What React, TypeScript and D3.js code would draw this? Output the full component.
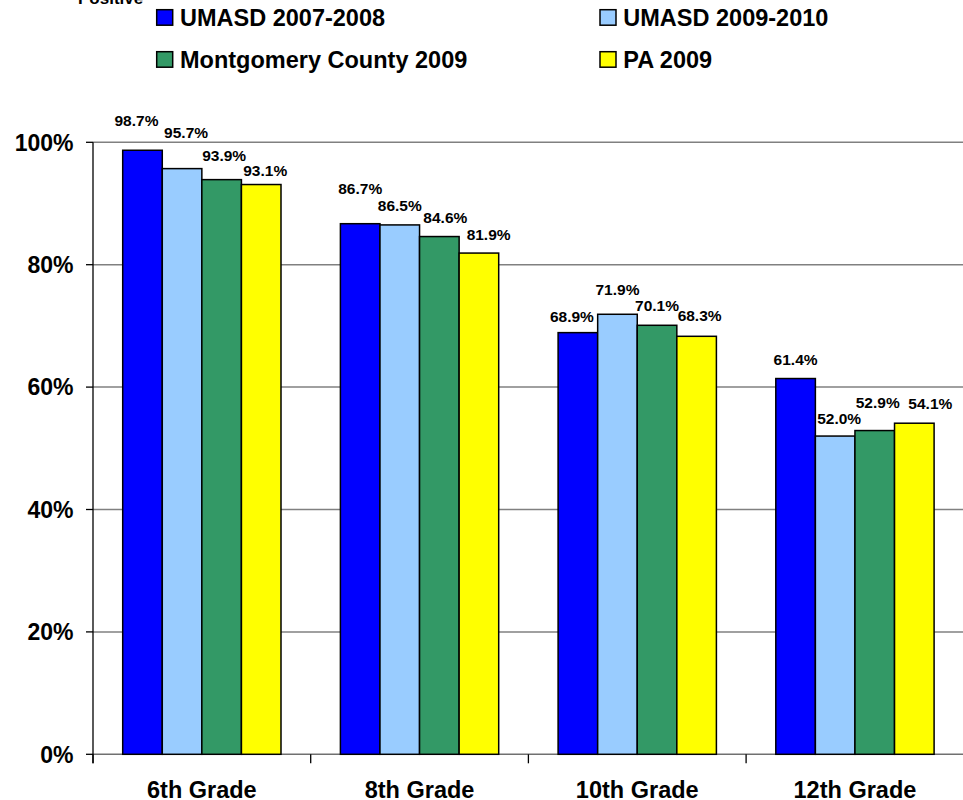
import React from "react";
import * as d3 from "d3";

const categories = ["6th Grade", "8th Grade", "10th Grade", "12th Grade"];
const seriesNames = ["UMASD 2007-2008", "UMASD 2009-2010", "Montgomery County 2009", "PA 2009"];
const umasd0708 = [98.7, 86.7, 68.9, 61.4];
const umasd0910 = [95.7, 86.5, 71.9, 52.0];
const montgomery09 = [93.9, 84.6, 70.1, 52.9];
const pa09 = [93.1, 81.9, 68.3, 54.1];
const yTicks = [0, 20, 40, 60, 80, 100];

// layout-only: label nudges (dx, dy from bar top) per series x category
const labelDx = [[-6, 0, -6, 0], [4, 0, 0, 4], [2.5, 6, 0, 3], [4, 9.7, 3, 16]];
const labelDy = [[-24, -29.4, -11, -13.5], [-31, -14, -19.3, -12], [-18.6, -14, -14.3, -22.3], [-8.5, -13, -15.3, -14]];

const colors = ["#0000FF", "#99CCFF", "#339966", "#FFFF00"];
const series = [umasd0708, umasd0910, montgomery09, pa09];

const W = 963, H = 800;
const left = 93, right = 963.8, top = 142.3, bottom = 754.3;
const font = "Arial, 'Liberation Sans', sans-serif";

export default function App() {
  const x = d3.scaleBand<string>().domain(categories).range([left, right]).padding(0);
  const step = x.bandwidth();
  const groupOff = 29.7;
  const xs = d3.scaleBand<number>().domain(d3.range(series.length)).range([groupOff, step - groupOff]).padding(0);
  const y = d3.scaleLinear().domain([0, 100]).range([bottom, top]);

  const legend = [
    { i: 0, x: 156.7, y: 9.7 },
    { i: 1, x: 600, y: 9.7 },
    { i: 2, x: 156.7, y: 51.7 },
    { i: 3, x: 600, y: 51.7 },
  ];

  return (
    <svg width={W} height={H} style={{ position: "absolute", left: 0, top: 0, background: "#fff" }} fontFamily={font}>
      <rect x={0} y={0} width={W} height={H} fill="#fff" />
      <text x={78} y={4} fontSize={17} fontWeight="bold" fill="#000">Positive</text>
      {legend.map((l) => (
        <g key={l.i}>
          <rect x={l.x} y={l.y} width={16} height={15.5} fill={colors[l.i]} stroke="#000" strokeWidth={1.5} />
          <text x={l.x + 23.3} y={l.y + 16.5} fontSize={23.5} fontWeight="bold" fill="#000">{seriesNames[l.i]}</text>
        </g>
      ))}
      {yTicks.filter((t) => t > 0).map((t) => (
        <line key={t} x1={left} x2={W} y1={y(t)} y2={y(t)} stroke="#808080" strokeWidth={1.5} />
      ))}
      <line x1={left} x2={W} y1={bottom} y2={bottom} stroke="#707070" strokeWidth={1.5} />
      <line x1={left} x2={left} y1={top} y2={bottom + 9} stroke="#000" strokeWidth={1.3} />
      {yTicks.map((t) => (
        <g key={t}>
          <line x1={left - 7} x2={left} y1={y(t)} y2={y(t)} stroke="#000" strokeWidth={1.3} />
          <text x={73.5} y={y(t)} dy="0.36em" textAnchor="end" fontSize={23} fontWeight="bold">{t}%</text>
        </g>
      ))}
      {categories.map((c, ci) => (
        <g key={c}>
          <line x1={x(c)!} x2={x(c)!} y1={bottom} y2={bottom + 9} stroke="#000" strokeWidth={1.3} />
          <text x={x(c)! + step / 2} y={797.5} textAnchor="middle" fontSize={23.5} fontWeight="bold">{c}</text>
          {series.map((s, si) => {
            const bx = x(c)! + xs(si)!;
            const bw = xs.bandwidth();
            return (
              <g key={si}>
                <rect x={bx} y={y(s[ci])} width={bw} height={bottom - y(s[ci])} fill={colors[si]} stroke="#000" strokeWidth={1.5} />
                <text x={bx + bw / 2 + labelDx[si][ci]} y={y(s[ci]) + labelDy[si][ci]} textAnchor="middle" fontSize={15.5} fontWeight="bold">
                  {s[ci].toFixed(1)}%
                </text>
              </g>
            );
          })}
        </g>
      ))}
    </svg>
  );
}
